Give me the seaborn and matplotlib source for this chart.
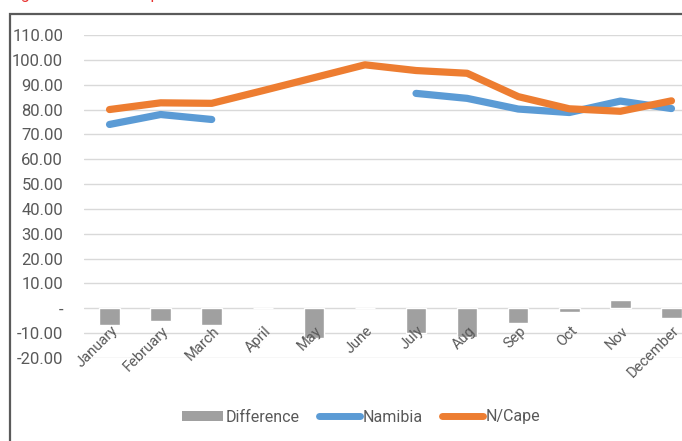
import numpy as np
import pandas as pd
import seaborn as sns
import matplotlib
matplotlib.use("Agg")
import matplotlib.pyplot as plt
from matplotlib.lines import Line2D
from matplotlib.patches import Patch, Rectangle
from matplotlib.ticker import FuncFormatter, MultipleLocator
import matplotlib.transforms as mtransforms

# ---- data ---------------------------------------------------------------
months = ["January", "February", "March", "April", "May", "June",
          "July", "Aug", "Sep", "Oct", "Nov", "December"]
namibia = [74.0, 78.0, 76.0, np.nan, np.nan, np.nan,
           86.5, 84.5, 80.2, 78.8, 83.4, 80.4]
ncape = [80.0, 82.7, 82.5, 87.6, 92.8, 98.0,
         95.7, 94.6, 85.2, 80.3, 79.3, 83.5]
difference = [-6.8, -5.2, -6.8, 0.0, -12.0, 0.0,
              -10.0, -11.5, -6.0, -1.5, 3.5, -4.0]

BLUE = "#5B9BD5"
ORANGE = "#ED7D31"
GRAY = "#A0A0A0"
TEXT = "#595959"

sns.set_theme(style="white")
plt.rcParams["font.family"] = ["Roboto", "DejaVu Sans"]

pos = np.arange(len(months))
df = pd.DataFrame({"pos": pos, "month": months, "Namibia": namibia,
                   "N/Cape": ncape, "Difference": difference})
# contiguous runs of Namibia values, so gaps stay open in the line
df["nam_seg"] = df["Namibia"].isna().cumsum()

fig = plt.figure(figsize=(6.82, 4.41), dpi=100)

# outer chart frame
fig.patches.append(Rectangle((9.5 / 682, -0.2), 1.2, (441 - 14) / 441 + 0.2,
                             transform=fig.transFigure, fill=False,
                             edgecolor="#5a5a5a", linewidth=1.6, zorder=0))

# caption above the frame (only its descenders reach the canvas)
fig.text(8 / 682, 1.0 + 0.5 / 441, "Figure 11: Rate comparison",
         color="#E8312F", fontsize=11.5, ha="left", va="baseline")

ax = fig.add_axes([84 / 682, (441 - 358) / 441, 613 / 682, 323 / 441])

sns.barplot(data=df, x="pos", y="Difference", color=GRAY, width=0.4,
            saturation=1, ax=ax, native_scale=True, zorder=2)

nam = df.dropna(subset=["Namibia"])
sns.lineplot(data=nam, x="pos", y="Namibia", units="nam_seg", estimator=None,
             color=BLUE, linewidth=5.2, solid_capstyle="round", ax=ax, zorder=3)
sns.lineplot(data=df, x="pos", y="N/Cape", color=ORANGE, linewidth=5.2,
             solid_capstyle="round", ax=ax, zorder=4)

ax.set_xlim(-0.5, len(months) - 0.5)
ax.set_ylim(-20, 110)
ax.yaxis.set_major_locator(MultipleLocator(10))
ax.yaxis.set_major_formatter(FuncFormatter(
    lambda v, _: "-" if abs(v) < 1e-9 else f"{v:.2f}"))
ax.grid(axis="y", color="#D9D9D9", linewidth=1.0)
ax.set_axisbelow(True)
ax.xaxis.set_zorder(5)
ax.set_xlabel("")
ax.set_ylabel("")

for s in ax.spines.values():
    s.set_visible(False)
ax.spines["bottom"].set_position(("data", 0))

ax.set_xticks(pos)
ax.set_xticklabels(months, rotation=45, ha="right", rotation_mode="anchor")
ax.tick_params(axis="x", length=0, pad=11, labelsize=10.5, labelcolor=TEXT)
ax.tick_params(axis="y", length=0, pad=15, labelsize=12, labelcolor=TEXT)

shift = mtransforms.ScaledTranslation(1 / 100, 0, fig.dpi_scale_trans)
for lab in ax.get_xticklabels():
    lab.set_transform(lab.get_transform() + shift)

handles = [
    Patch(facecolor=GRAY, edgecolor="none"),
    Line2D([0], [0], color=BLUE, linewidth=5, solid_capstyle="round"),
    Line2D([0], [0], color=ORANGE, linewidth=5, solid_capstyle="round"),
]
fig.legend(handles, ["Difference", "Namibia", "N/Cape"], loc="center",
           bbox_to_anchor=(361 / 682, (441 - 417) / 441), ncol=3,
           frameon=False, fontsize=11.5, labelcolor=TEXT,
           handlelength=2.6, handleheight=0.6, handletextpad=0.15,
           columnspacing=1.2)

fig.savefig("out.png", dpi=100)
